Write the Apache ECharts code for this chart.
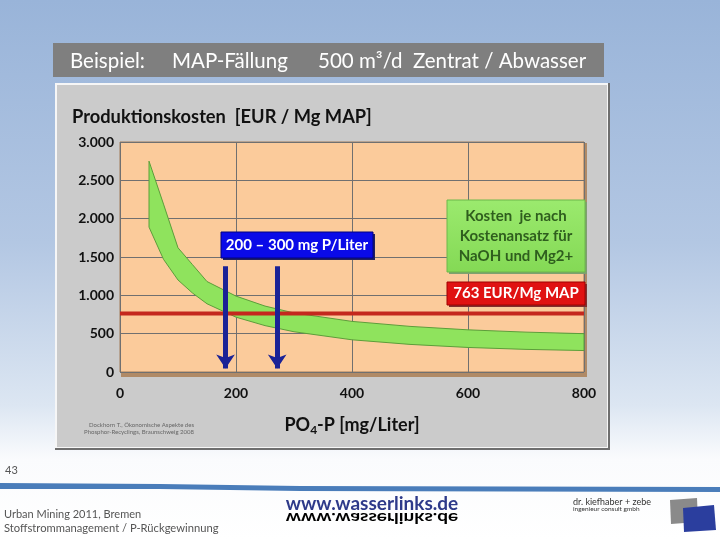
<!DOCTYPE html>
<html>
<head>
<meta charset="utf-8">
<script src="https://cdn.jsdelivr.net/npm/echarts@6/dist/echarts.min.js"></script>
<style>html,body{margin:0;padding:0;}#c{width:720px;height:540px;}</style>
</head>
<body>
<div id="c"></div>
<script>
// ---- data ----
const concentration = [50, 75, 100, 125, 150, 200, 250, 300, 400, 500, 600, 700, 800];
const upperCost     = [2750, 2190, 1620, 1400, 1180, 990, 860, 770, 660, 595, 550, 520, 500];
const lowerCost     = [1890, 1470, 1200, 1030, 890, 715, 605, 525, 420, 360, 320, 295, 280];
const refCost = 763;
const refRange = [0, 800];
const arrowX = [182, 271];
const arrowFrom = 1380;
const arrowTo = 45;
const xTicks = [0, 200, 400, 600, 800];
const yTicks = [0, 500, 1000, 1500, 2000, 2500, 3000];

const F = 'Lato, "Open Sans", "Noto Sans", sans-serif';
const chart = echarts.init(document.getElementById('c'), null, {renderer: 'canvas'});

function txt(text, x, y, size, color, weight, align, extra) {
  return Object.assign({
    type: 'text', z: 50,
    style: {
      text: text, x: x, y: y,
      font: (weight || 'normal') + ' ' + size + 'px ' + F,
      fill: color,
      align: align || 'left', textAlign: align || 'left',
      verticalAlign: 'middle', textVerticalAlign: 'middle'
    }
  }, extra || {});
}

const graphics = [
  // slide background
  {type: 'rect', z: -20, shape: {x: 0, y: 0, width: 720, height: 540},
   style: {fill: new echarts.graphic.LinearGradient(0, 0, 0, 1, [
     {offset: 0, color: '#99B4D9'}, {offset: 0.45, color: '#B3C7E3'},
     {offset: 0.75, color: '#DCE6F2'}, {offset: 0.85, color: '#FAFBFD'}, {offset: 1, color: '#FFFFFF'}])}},
  // blue stripe
  {type: 'polygon', z: -15, shape: {points: [[0,483],[160,484],[300,486],[720,487],[720,492],[300,491],[160,489],[0,489]]},
   style: {fill: '#4A7DBA'}},
  // header bar
  {type: 'rect', z: -15, shape: {x: 53, y: 43, width: 551, height: 34}, style: {fill: '#7F7F7F'}},
  txt('Beispiel:', 70, 61, 20.5, '#FFFFFF'),
  txt('MAP-Fällung', 172, 61, 20.5, '#FFFFFF'),
  txt('500 m³/d  Zentrat / Abwasser', 318, 61, 20.5, '#FFFFFF'),
  // panel
  {type: 'rect', z: -15, shape: {x: 55, y: 83, width: 555, height: 367}, style: {fill: '#6E6E6E'}},
  {type: 'rect', z: -14, shape: {x: 55, y: 83, width: 553, height: 365}, style: {fill: '#F6F6F6'}},
  {type: 'rect', z: -13, shape: {x: 57, y: 85, width: 550, height: 362}, style: {fill: '#CBCBCB'}},
  // plot 3D frame shadow
  {type: 'rect', z: -12, shape: {x: 121, y: 143, width: 466, height: 234}, style: {fill: '#B08A66'}},
  // chart title
  txt('Produktionskosten  [EUR / Mg MAP]', 72, 117, 18.3, '#111111', 'bold'),
  // source note
  txt('Dockhorn T., Ökonomische Aspekte des', 194, 425, 6, '#666666', 'normal', 'right'),
  txt('Phosphor-Recyclings, Braunschweig 2008', 194, 432, 6, '#666666', 'normal', 'right'),
  // blue annotation box
  {type: 'rect', z: 40, shape: {x: 223, y: 234, width: 152, height: 26}, style: {fill: '#202060'}},
  {type: 'rect', z: 41, shape: {x: 221, y: 232, width: 152, height: 26}, style: {fill: '#0A0AE8', stroke: '#000080', lineWidth: 1}},
  txt('200 – 300 mg P/Liter', 297, 245.5, 15, '#FFFFFF', 'bold', 'center'),
  // green annotation box
  {type: 'rect', z: 40, shape: {x: 449, y: 202, width: 138, height: 72}, style: {fill: '#7FA070'}},
  {type: 'rect', z: 41, shape: {x: 447, y: 200, width: 138, height: 72},
   style: {fill: new echarts.graphic.LinearGradient(0, 0, 0, 1, [{offset: 0, color: '#9BEA6E'}, {offset: 1, color: '#84D955'}]), stroke: '#6CB84A', lineWidth: 1}},
  txt('Kosten  je nach', 516, 216, 15, '#2F5E1E', 'bold', 'center'),
  txt('Kostenansatz für', 516, 236, 15, '#2F5E1E', 'bold', 'center'),
  txt('NaOH und Mg2+', 516, 256, 15, '#2F5E1E', 'bold', 'center'),
  // red annotation box
  {type: 'rect', z: 40, shape: {x: 449, y: 284, width: 138, height: 23}, style: {fill: '#803030'}},
  {type: 'rect', z: 41, shape: {x: 447, y: 282, width: 138, height: 23}, style: {fill: '#E01212', stroke: '#A00000', lineWidth: 1}},
  txt('763 EUR/Mg MAP', 516, 293.5, 15, '#FFFFFF', 'bold', 'center'),
  // footer
  txt('43', 5, 470, 11, '#555555'),
  txt('Urban Mining 2011, Bremen', 4, 514, 11, '#555555'),
  txt('Stoffstrommanagement / P-Rückgewinnung', 4, 528, 11.2, '#555555'),
  txt('www.wasserlinks.de', 372, 504, 19, '#2E3A8A', 'bold', 'center'),
  {type: 'text', z: 49, x: 372, y: 510, scaleY: -0.75,
   style: {text: 'www.wasserlinks.de', x: 0, y: 0, font: 'bold 19px ' + F,
     fill: new echarts.graphic.LinearGradient(0, 0, 0, 1, [{offset: 0, color: '#2A9AB5'}, {offset: 1, color: '#2A5A9E'}]),
     align: 'center', textAlign: 'center', verticalAlign: 'bottom', textVerticalAlign: 'bottom'}},
  txt('dr. kiefhaber + zebe', 573, 502, 9, '#333333'),
  txt('ingenieur consult gmbh', 573, 509, 6.5, '#333333'),
  {type: 'polygon', z: 30, shape: {points: [[670,500],[697,498],[698,522],[671,524]]}, style: {fill: '#8A8A8A'}},
  {type: 'polygon', z: 31, shape: {points: [[683,508],[714,505],[716,530],[684,532]]}, style: {fill: '#2B3E9E'}}
];

const bandData = concentration.map((x, i) => [x, lowerCost[i], upperCost[i]]);

const option = {
  animation: false,
  graphic: graphics,
  grid: {left: 120, top: 142, width: 464, height: 230, show: true,
         backgroundColor: '#FBCB9B', borderColor: '#A07A58', borderWidth: 1},
  xAxis: {
    type: 'value', min: xTicks[0], max: xTicks[xTicks.length - 1], interval: 200,
    axisLine: {show: false}, axisTick: {show: false},
    splitLine: {show: true, lineStyle: {color: '#707070', width: 1}},
    axisLabel: {margin: 14, color: '#111', fontSize: 14, fontWeight: 'bold', fontFamily: F},
    name: '{a|PO}{s|4}{a|-P [mg/Liter]}', nameLocation: 'middle', nameGap: 42,
    nameTextStyle: {rich: {
      a: {fontSize: 18, fontWeight: 'bold', fontFamily: F, color: '#111'},
      s: {fontSize: 12, fontWeight: 'bold', fontFamily: F, color: '#111', padding: [10, 0, 0, 0]}
    }}
  },
  yAxis: {
    type: 'value', min: yTicks[0], max: yTicks[yTicks.length - 1], interval: 500,
    axisLine: {show: false}, axisTick: {show: false},
    splitLine: {show: true, lineStyle: {color: '#707070', width: 1}},
    axisLabel: {margin: 6, color: '#111', fontSize: 14, fontWeight: 'bold', fontFamily: F,
      formatter: v => String(v).replace(/\B(?=(\d{3})+(?!\d))/g, '.')}
  },
  series: [
    {
      type: 'custom', z: 3, data: bandData,
      encode: {x: 0, y: [1, 2]},
      renderItem: function (params, api) {
        if (params.dataIndex !== 0) return null;
        const pts = [];
        for (let i = 0; i < concentration.length; i++) pts.push(api.coord([concentration[i], upperCost[i]]));
        for (let i = concentration.length - 1; i >= 0; i--) pts.push(api.coord([concentration[i], lowerCost[i]]));
        return {type: 'polygon', shape: {points: pts, smooth: 0},
          style: {fill: '#8FE35D', stroke: '#5C9E3A', lineWidth: 1}};
      }
    },
    {
      type: 'line', z: 5, symbol: 'none', silent: true,
      data: refRange.map(x => [x, refCost]),
      lineStyle: {color: '#C4281E', width: 4}
    },
    {
      type: 'lines', coordinateSystem: 'cartesian2d', z: 6,
      symbol: ['none', 'arrow'], symbolSize: 14,
      data: arrowX.map(x => ({coords: [[x, arrowFrom], [x, arrowTo]]})),
      lineStyle: {color: '#1A2296', width: 5, opacity: 1}
    }
  ]
};
chart.setOption(option);
</script>
</body>
</html>
